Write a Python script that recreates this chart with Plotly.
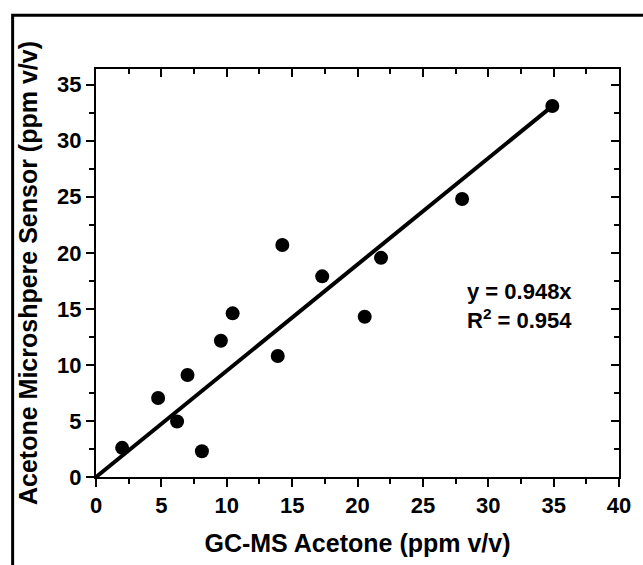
import plotly.graph_objects as go

# Data
gc_ms_acetone = [2.0, 4.75, 6.2, 7.0, 8.1, 9.55, 10.45, 13.9, 14.25, 17.3, 20.55, 21.8, 28.0, 34.9]
sensor_acetone = [2.6, 7.05, 4.95, 9.1, 2.3, 12.15, 14.6, 10.8, 20.7, 17.9, 14.3, 19.55, 24.8, 33.1]
fit_slope = 0.948
fit_r2 = 0.954
fit_x = [0.0, 34.9]
fit_y = [fit_slope * v for v in fit_x]

x_ticks = [0, 5, 10, 15, 20, 25, 30, 35, 40]
y_ticks = [0, 5, 10, 15, 20, 25, 30, 35]

FONT = "Liberation Sans, Arial, sans-serif"

fig = go.Figure()
fig.add_trace(go.Scatter(x=fit_x, y=fit_y, mode="lines",
                         line=dict(color="black", width=4), showlegend=False))
fig.add_trace(go.Scatter(x=gc_ms_acetone, y=sensor_acetone, mode="markers",
                         marker=dict(color="black", size=14), showlegend=False))
# dummy trace for mirrored (inside-tick) axes
fig.add_trace(go.Scatter(x=[None], y=[None], xaxis="x2", yaxis="y2", showlegend=False))

axis_common = dict(showgrid=False, zeroline=False, showline=True, linecolor="black",
                   linewidth=2, tickcolor="black", tickwidth=2)
minor_out = dict(dtick=2.5, tick0=0, ticks="outside", ticklen=5, tickwidth=2, tickcolor="black")
minor_in = dict(dtick=2.5, tick0=0, ticks="inside", ticklen=5, tickwidth=2, tickcolor="black")

fig.update_layout(
    width=643, height=565,
    margin=dict(l=96, r=20, t=69, b=86),
    paper_bgcolor="white", plot_bgcolor="white",
    font=dict(family=FONT, color="black", size=22),
    xaxis=dict(range=[0, 40], tickvals=x_ticks, ticktext=[f"<b>{v}</b>" for v in x_ticks],
               ticks="outside", ticklen=8, minor=minor_out,
               tickfont=dict(size=22),
               title=dict(text="<b>GC-MS Acetone (ppm v/v)</b>", font=dict(size=25), standoff=17),
               **axis_common),
    yaxis=dict(range=[0, 36.4], tickvals=y_ticks, ticktext=[f"<b>{v}</b>" for v in y_ticks],
               ticks="outside", ticklen=8, minor=minor_out,
               tickfont=dict(size=22),
               title=dict(text="<b>Acetone Microshpere Sensor (ppm v/v)</b>", font=dict(size=25), standoff=12),
               **axis_common),
    xaxis2=dict(range=[0, 40], overlaying="x", side="top", tickvals=x_ticks, ticks="inside", ticklen=8,
                showticklabels=False, minor=minor_in, **axis_common),
    yaxis2=dict(range=[0, 36.4], overlaying="y", side="right", tickvals=y_ticks, ticks="inside", ticklen=8,
                showticklabels=False, minor=minor_in, **axis_common),
    shapes=[dict(type="rect", xref="paper", yref="paper",
                 x0=-0.1594, x1=1.06, y0=-0.24, y1=1.1317,
                 line=dict(color="black", width=3), fillcolor="rgba(0,0,0,0)")],
    annotations=[
        dict(x=32.4, y=16.57, xref="x", yref="y", text=f"<b>y = {fit_slope:.3f}x</b>", showarrow=False,
             font=dict(size=22)),
        dict(x=32.4, y=14.1, xref="x", yref="y", text=f"<b>R<sup>2</sup> = {fit_r2:.3f}</b>", showarrow=False,
             font=dict(size=22)),
    ],
)

fig.write_html("out.html", config={"displayModeBar": False},
               post_script="document.body.style.margin='0';document.body.style.overflow='hidden';")
